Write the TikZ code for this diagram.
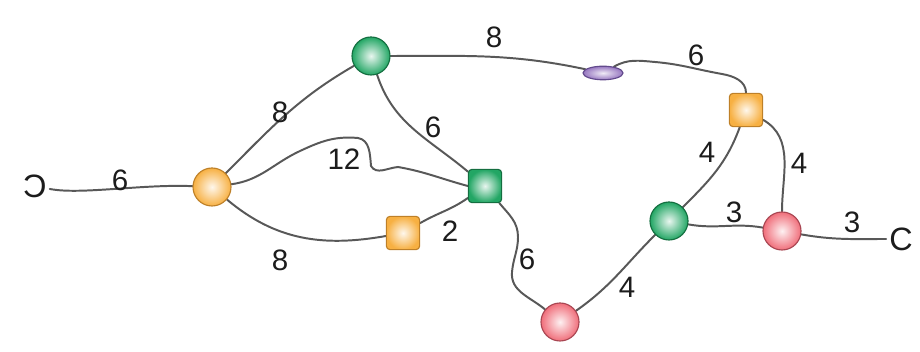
\documentclass[tikz,border=0pt]{standalone}
\usepackage{fontspec}
\setmainfont{Liberation Sans}
\usepackage{graphicx}
\usepackage{tikz}
\usetikzlibrary{
  shapes.geometric,
  backgrounds
}
\definecolor{orangecolor}{RGB}{247, 176, 66}
\definecolor{orangeborder}{RGB}{190, 128, 40}
\definecolor{greencolor}{RGB}{34, 166, 100}
\definecolor{greenborder}{RGB}{20, 110, 64}
\definecolor{redcolor}{RGB}{240, 110, 122}
\definecolor{redborder}{RGB}{168, 70, 82}
\definecolor{purplecolor}{RGB}{150, 118, 192}
\definecolor{purpleborder}{RGB}{98, 74, 140}
\definecolor{wirecolor}{RGB}{88, 88, 88}
\definecolor{labelcolor}{RGB}{28, 28, 28}
\tikzset{
ballnode/.style={
  circle,
  draw=#1border,
  line width=0.8pt,
  inner sep=0pt,
  minimum size=0.95cm,
  shading=radial,
  inner color=#1color!10!white,
  outer color=#1color
},
boxnode/.style={
  rectangle,
  rounded corners=2.5pt,
  draw=#1border,
  line width=0.8pt,
  inner sep=0pt,
  minimum size=0.83cm,
  shading=radial,
  inner color=#1color!10!white,
  outer color=#1color
},
pillnode/.style={
  ellipse,
  draw=purpleborder,
  line width=0.8pt,
  inner sep=0pt,
  minimum width=1.0cm,
  minimum height=0.34cm,
  shading=radial,
  inner color=purplecolor!15!white,
  outer color=purplecolor
},
terminal/.style={
  font=\fontsize{23}{26}\selectfont,
  text=labelcolor,
  inner sep=2pt
},
weight/.style={
  font=\fontsize{21}{24}\selectfont,
  text=labelcolor,
  inner sep=0pt
},
wire/.style={
  draw=wirecolor,
  line width=1.4pt,
  line cap=round
}
}

\begin{document}
\begin{tikzpicture}[x=0.025cm, y=0.025cm]
\useasboundingbox (0,0) rectangle (920,352);

% ============================================================================
% NOS
% ============================================================================
\node[terminal] (src) at (35,166) {\reflectbox{C}};
\node[terminal] (snk) at (901,113) {C};

\node[ballnode=orange] (A) at (212,165) {};
\node[ballnode=green] (B) at (371,296) {};
\node[boxnode=green] (C) at (485,166) {};
\node[boxnode=orange] (D) at (403,119) {};
\node[pillnode] (E) at (603,279) {};
\node[boxnode=orange] (F) at (746,242) {};
\node[ballnode=green] (G) at (669,131) {};
\node[ballnode=red] (H) at (782,121) {};
\node[ballnode=red] (I) at (560,30) {};

% ============================================================================
% ARESTAS
% ============================================================================
\begin{scope}[on background layer]
\draw[wire] (src) .. controls +(45,-9) and +(-70,3) .. (A);
\draw[wire] (A) to[out=45,in=210] (B);
\draw[wire] (A) to[out=8,in=205] (300,201) to[out=25,in=175] (358,214)
    to[out=-10,in=95] (371,186) to[out=-60,in=185] (398,185)
    to[out=-10,in=165] (C.west);
\draw[wire] (A) to[out=-40,in=190] (D);
\draw[wire] (D) to[out=30,in=215] (C);
\draw[wire] (B) to[out=-72,in=140] (C);
\draw[wire] (B) to[out=0,in=168] (E);
\draw[wire] (E) to[out=30,in=175] (655,290) to[out=-5,in=170] (722,278)
    to[out=-10,in=90] (F);
\draw[wire] (C) to[out=-50,in=90] (518,115) to[out=-90,in=85] (512,80)
    to[out=-95,in=140] (I);
\draw[wire] (I) to[out=35,in=225] (G);
\draw[wire] (G) to[out=45,in=250] (F);
\draw[wire] (G) to[out=-10,in=170] (H);
\draw[wire] (F) to[out=-30,in=90] (H);
\draw[wire] (H) to[out=-10,in=180] (snk);
\end{scope}

% ============================================================================
% PESOS
% ============================================================================
\node[weight] (wSA) at (120,172) {6};
\node[weight] (wAB) at (280,240) {8};
\node[weight] (wAC) at (344,193) {12};
\node[weight] (wAD) at (280,92) {8};
\node[weight] (wDC) at (450,121) {2};
\node[weight] (wBC) at (433,225) {6};
\node[weight] (wBE) at (494,315) {8};
\node[weight] (wEF) at (696,297) {6};
\node[weight] (wCI) at (527,93) {6};
\node[weight] (wIG) at (627,65) {4};
\node[weight] (wGF) at (707,200) {4};
\node[weight] (wGH) at (734,140) {3};
\node[weight] (wFH) at (799,189) {4};
\node[weight] (wHS) at (852,130) {3};

\end{tikzpicture}
\end{document}
